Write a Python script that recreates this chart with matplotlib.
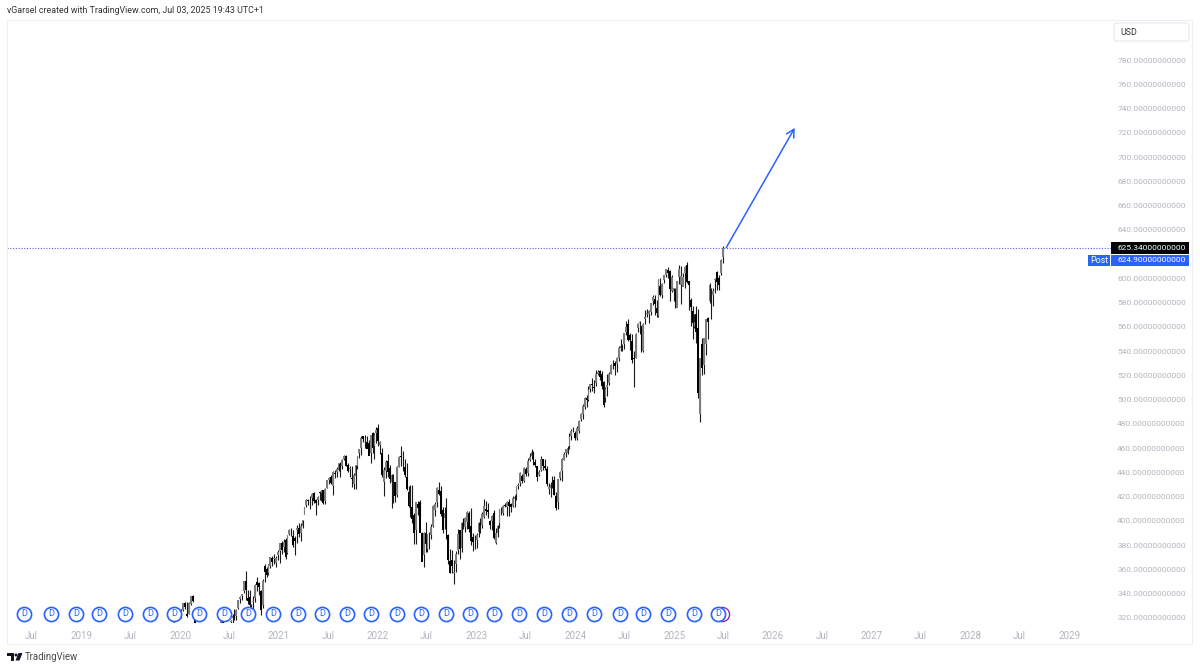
# SPY semanal estilo TradingView
import pandas as pd
import numpy as np
import matplotlib
matplotlib.use('Agg')
import matplotlib.pyplot as plt
from matplotlib.patches import Rectangle, FancyBboxPatch, Polygon, Circle

plt.rcParams['font.family'] = ['Roboto', 'DejaVu Sans']

# Velas semanales, primera semana 2019-12-09
primera_semana = '2019-12-09'

opens = [
    314.4, 318.0, 320.5,
    # 2020
    322.0, 320.5, 326.4, 332.4, 323.0, 323.4, 331.2, 337.8, 323.1, 298.2,
    275.3, 241.2, 228.2, 255.7, 257.8, 277.1, 279.1, 285.1, 280.7, 290.3,
    293.0, 301.9, 303.6, 320.2, 298.0, 307.0, 301.4, 316.4, 320.1, 321.4,
    321.6, 327.9, 335.1, 337.9, 342.1, 350.2, 336.7, 337.5, 322.0, 333.2,
    336.0, 349.6, 348.6, 342.0, 330.2, 363.0, 360.0, 357.3, 362.8, 369.0,
    368.6, 364.9, 371.7,
    # 2021
    375.3, 382.0, 378.3, 384.0, 373.7, 388.8, 389.6, 387.1, 385.6, 392.0,
    394.3, 390.0, 395.3, 405.8, 412.8, 417.2, 417.5, 419.0, 422.5, 417.0,
    417.1, 424.0, 423.0, 425.0, 416.0, 427.2, 433.8, 436.2, 428.9, 439.3,
    440.3, 442.1, 447.0, 445.0, 450.9, 453.3, 445.9, 443.0, 434.9, 430.0,
    437.2, 444.8, 455.5, 460.3, 469.7, 469.2, 465.0, 464.1, 456.1, 472.2,
    461.6, 472.1,
    # 2022
    476.3, 462.7, 455.5, 432.0, 441.2, 449.5, 443.7, 431.9, 432.0, 431.8,
    420.9, 444.3, 453.3, 447.9, 444.1, 436.0, 423.7, 412.1, 411.1, 405.1,
    392.8, 413.6, 415.2, 390.0, 371.9, 390.0, 376.6, 384.9, 388.4, 395.8,
    409.2, 415.2, 425.0, 424.5, 409.1, 402.7, 408.8, 388.2, 367.0, 368.0,
    357.2, 364.0, 375.9, 392.7, 377.7, 401.6, 394.6, 399.1, 406.1, 395.9,
    387.0, 382.8,
    # 2023
    384.4, 390.4, 398.5, 396.7, 402.8, 409.8, 408.7, 399.9, 399.9, 406.4,
    381.8, 390.1, 398.1, 408.9, 406.6, 412.9, 411.2, 415.5, 413.6, 412.2,
    417.7, 422.0, 428.3, 431.0, 437.0, 432.9, 442.9, 439.0, 450.5, 453.4,
    456.3, 448.7, 444.9, 437.6, 442.2, 450.7, 444.9, 443.1, 426.6, 426.9,
    431.8, 433.4, 420.6, 415.4, 435.5, 441.0, 450.5, 455.5, 455.8, 461.6,
    470.0, 475.4,
    # 2024
    472.2, 468.4, 474.0, 484.0, 487.9, 493.7, 501.1, 500.0, 508.3, 513.1,
    510.5, 514.0, 521.2, 523.8, 521.1, 514.4, 501.0, 510.1, 513.3, 521.1,
    529.6, 530.0, 529.0, 534.1, 542.1, 544.3, 545.6, 555.4, 562.0, 553.0,
    548.0, 534.1, 534.2, 559.2, 563.2, 560.5, 540.0, 566.0, 570.5, 570.4,
    572.0, 581.2, 583.3, 575.6, 569.1, 593.3, 586.2, 598.8, 602.9, 607.0,
    606.0, 589.8, 589.9,
    # 2025
    589.7, 575.5, 600.7, 594.8, 592.7, 604.0, 611.0, 597.8, 582.2, 573.0,
    559.8, 570.8, 558.9, 488.0, 546.0, 528.1, 546.0, 567.4, 581.5, 578.7,
    586.3, 598.7, 605.0, 600.0, 604.0, 617.4,
]
highs = [
    318.0, 321.0, 322.9,
    # 2020
    323.6, 327.5, 332.2, 333.1, 332.9, 333.0, 338.1, 339.1, 324.0, 313.8,
    288.5, 256.9, 264.0, 263.3, 281.2, 288.0, 286.8, 300.6, 293.0, 294.0,
    298.5, 306.8, 321.0, 323.4, 315.6, 314.5, 315.7, 318.0, 323.0, 327.2,
    327.0, 335.0, 338.3, 339.7, 350.7, 358.8, 342.6, 343.1, 331.2, 338.3,
    347.5, 354.0, 349.3, 342.9, 352.0, 364.4, 361.9, 364.2, 369.9, 371.0,
    372.5, 371.0, 375.5,
    # 2021
    381.5, 383.0, 385.0, 385.9, 388.5, 393.0, 394.2, 392.3, 387.7, 396.5,
    398.1, 398.0, 401.0, 411.7, 418.0, 418.3, 420.7, 422.8, 424.0, 418.0,
    420.7, 424.5, 425.5, 425.5, 427.0, 434.0, 436.0, 437.9, 441.0, 441.8,
    444.5, 448.0, 448.3, 451.0, 454.0, 454.1, 448.0, 445.4, 445.0, 439.0,
    446.3, 453.8, 459.6, 469.7, 470.0, 470.6, 470.0, 466.6, 471.0, 473.0,
    472.0, 477.0,
    # 2022
    479.98, 466.0, 460.0, 444.0, 450.3, 455.0, 446.0, 438.7, 438.2, 432.0,
    445.0, 453.5, 462.0, 457.8, 450.6, 448.0, 429.0, 429.7, 429.7, 406.4,
    408.6, 416.0, 417.4, 390.9, 391.0, 399.0, 389.5, 391.0, 397.0, 413.0,
    415.7, 428.0, 431.7, 428.5, 411.0, 411.5, 419.0, 388.7, 377.0, 376.0,
    368.0, 375.0, 393.0, 392.7, 399.4, 402.0, 402.9, 408.0, 407.7, 410.5,
    390.0, 388.0,
    # 2023
    390.0, 399.0, 402.0, 407.0, 418.3, 416.0, 415.0, 400.6, 404.9, 409.0,
    394.0, 396.5, 409.7, 411.0, 413.0, 415.0, 416.0, 417.6, 415.0, 420.7,
    421.0, 428.7, 431.0, 439.9, 438.4, 444.3, 444.0, 451.4, 456.0, 459.4,
    457.3, 451.0, 445.3, 442.0, 453.7, 451.0, 451.0, 445.0, 431.0, 432.0,
    437.3, 437.0, 424.0, 434.8, 441.0, 451.4, 456.4, 459.6, 461.9, 472.0,
    475.9, 477.6,
    # 2024
    473.7, 477.8, 483.0, 488.8, 496.0, 502.0, 503.5, 511.0, 513.0, 517.4,
    516.0, 524.0, 524.6, 524.4, 523.2, 515.0, 510.0, 521.4, 522.6, 529.5,
    533.0, 531.5, 534.7, 544.0, 550.0, 546.0, 555.0, 565.0, 566.0, 555.0,
    554.0, 540.0, 555.0, 563.0, 565.0, 552.0, 563.0, 574.0, 574.5, 574.0,
    580.0, 586.0, 586.0, 582.0, 599.0, 600.0, 596.0, 603.0, 608.0, 609.0,
    607.0, 602.5, 591.9,
    # 2025
    592.0, 598.0, 611.0, 610.0, 604.0, 610.0, 613.2, 598.0, 584.0, 577.0,
    570.9, 577.0, 575.0, 507.0, 551.0, 539.0, 551.0, 568.0, 596.0, 591.6,
    592.0, 600.0, 606.0, 603.0, 616.0, 626.9,
]
lows = [
    313.0, 317.7, 320.1,
    # 2020
    320.4, 319.9, 325.3, 327.0, 320.9, 322.8, 330.9, 333.0, 285.5, 294.0,
    248.5, 229.0, 218.3, 240.0, 255.0, 270.6, 266.0, 281.0, 279.0, 272.4,
    287.0, 298.0, 303.0, 296.7, 296.7, 298.0, 298.9, 310.3, 312.0, 318.0,
    318.5, 327.5, 332.0, 335.0, 340.5, 334.9, 331.4, 328.0, 319.8, 326.5,
    333.0, 342.4, 339.0, 322.6, 327.9, 349.5, 354.0, 354.9, 361.0, 362.6,
    364.0, 362.0, 368.0,
    # 2021
    364.8, 373.0, 374.0, 368.3, 373.0, 388.0, 387.1, 378.0, 372.0, 381.4,
    386.5, 383.0, 394.0, 405.8, 411.0, 413.0, 410.0, 413.0, 415.0, 405.0,
    413.0, 417.0, 416.0, 414.0, 414.0, 427.0, 430.0, 430.0, 421.0, 435.0,
    436.0, 441.0, 436.0, 443.0, 450.0, 445.0, 440.0, 436.0, 428.0, 426.0,
    426.4, 443.0, 452.0, 454.0, 465.0, 460.0, 463.0, 456.0, 448.0, 456.0,
    451.0, 464.0,
    # 2022
    462.0, 455.0, 436.0, 420.8, 435.0, 436.0, 431.0, 410.6, 415.0, 415.1,
    420.0, 444.0, 445.0, 441.0, 436.0, 425.0, 411.0, 403.0, 398.0, 380.5,
    380.5, 405.0, 401.0, 378.0, 362.2, 374.0, 374.0, 377.0, 385.0, 395.0,
    404.0, 411.0, 421.0, 404.0, 389.9, 393.0, 385.0, 364.0, 357.0, 357.0,
    348.1, 358.0, 373.0, 368.8, 374.0, 393.0, 391.0, 393.0, 391.0, 380.0,
    374.8, 377.0,
    # 2023
    377.8, 387.0, 390.0, 394.0, 402.0, 405.0, 402.0, 393.6, 392.0, 385.0,
    380.7, 387.0, 393.7, 405.0, 405.0, 411.0, 403.8, 403.7, 407.0, 411.0,
    411.0, 417.0, 426.0, 429.0, 431.0, 432.0, 437.0, 437.0, 449.0, 451.0,
    446.0, 444.0, 433.0, 437.0, 441.0, 442.0, 442.0, 429.0, 422.0, 420.0,
    427.0, 421.0, 409.2, 409.8, 434.0, 433.0, 450.0, 453.0, 455.0, 459.0,
    467.0, 473.0,
    # 2024
    466.4, 467.0, 472.0, 482.0, 484.0, 492.0, 493.9, 499.0, 506.0, 507.0,
    505.0, 511.0, 520.0, 516.0, 509.0, 493.9, 498.0, 503.0, 512.0, 521.0,
    525.0, 520.0, 522.6, 532.0, 540.0, 540.0, 542.0, 553.0, 548.0, 541.0,
    530.0, 510.3, 534.0, 556.0, 554.0, 539.4, 539.4, 562.0, 568.0, 563.0,
    570.0, 578.0, 570.0, 568.0, 568.0, 585.0, 584.0, 596.0, 601.0, 600.0,
    580.9, 589.0, 581.4,
    # 2025
    575.4, 576.0, 595.0, 579.0, 595.0, 592.0, 596.0, 574.0, 561.0, 549.7,
    559.0, 546.9, 501.0, 481.8, 520.0, 521.0, 537.0, 550.0, 580.0, 566.0,
    577.0, 588.0, 590.0, 590.0, 603.0, 613.0,
]
closes = [
    317.3, 320.7, 322.9,
    # 2020
    322.4, 325.7, 331.9, 328.8, 321.7, 332.2, 337.6, 333.5, 296.3, 297.5,
    269.3, 228.8, 253.4, 248.2, 278.2, 286.6, 283.0, 282.8, 292.4, 286.3,
    295.4, 304.3, 319.3, 300.6, 308.6, 300.1, 312.2, 317.6, 321.7, 320.9,
    326.5, 334.6, 336.8, 339.5, 350.6, 342.6, 334.1, 330.6, 328.7, 333.8,
    346.9, 347.3, 345.8, 326.5, 350.2, 358.1, 355.3, 363.7, 369.9, 366.3,
    369.2, 369.0, 373.9,
    # 2021
    381.3, 375.7, 382.9, 370.1, 387.7, 392.6, 390.0, 380.4, 383.6, 394.1,
    389.5, 396.0, 400.6, 411.5, 417.3, 416.7, 417.3, 422.1, 416.6, 414.9,
    420.0, 422.6, 424.3, 414.9, 426.6, 433.7, 435.5, 431.3, 439.9, 438.5,
    442.5, 447.3, 443.4, 450.3, 453.1, 445.4, 441.4, 443.9, 434.2, 437.9,
    445.9, 453.1, 459.3, 468.5, 467.3, 468.9, 459.0, 453.4, 470.7, 459.9,
    470.6, 475.0,
    # 2022
    466.1, 464.7, 438.0, 442.0, 448.7, 440.5, 434.2, 437.8, 432.2, 420.1,
    444.5, 452.7, 452.9, 447.6, 437.8, 426.0, 412.0, 411.3, 401.7, 389.6,
    415.3, 410.5, 389.8, 365.9, 390.1, 381.2, 388.7, 385.1, 395.1, 412.0,
    413.5, 427.1, 422.1, 405.3, 392.2, 406.6, 385.6, 368.0, 357.2, 362.8,
    357.7, 372.6, 389.0, 376.4, 398.5, 396.0, 402.3, 406.9, 393.3, 383.3,
    382.9, 382.4,
    # 2023
    388.1, 398.5, 395.9, 405.7, 412.4, 408.0, 407.3, 396.4, 404.2, 385.9,
    390.0, 395.8, 409.4, 409.2, 412.5, 412.2, 415.9, 412.6, 411.6, 418.6,
    420.0, 427.9, 429.9, 439.5, 433.2, 443.3, 438.6, 449.3, 452.2, 456.9,
    448.8, 445.6, 436.5, 440.0, 451.2, 445.5, 443.4, 430.4, 427.5, 429.5,
    431.5, 421.2, 410.7, 434.7, 440.6, 450.8, 455.3, 459.1, 460.2, 469.3,
    473.7, 475.3,
    # 2024
    467.9, 476.7, 482.4, 487.8, 494.4, 501.2, 499.5, 507.9, 512.9, 511.7,
    509.8, 521.2, 523.1, 518.4, 510.9, 495.2, 508.3, 512.3, 520.8, 528.7,
    529.4, 527.4, 534.0, 542.8, 544.5, 544.2, 554.6, 560.0, 549.0, 549.0,
    532.9, 533.3, 554.3, 562.1, 563.7, 540.4, 562.0, 568.3, 571.5, 573.0,
    579.6, 584.6, 579.0, 571.0, 598.2, 585.8, 595.5, 602.6, 607.8, 604.3,
    591.2, 601.3, 592.0,
    # 2025
    580.5, 597.6, 608.0, 601.8, 600.8, 609.7, 597.2, 594.2, 575.9, 562.8,
    564.0, 555.7, 505.3, 533.9, 526.4, 550.6, 566.8, 564.3, 594.2, 579.1,
    589.4, 599.1, 597.0, 594.3, 614.9, 625.3,
]

# Fechas de los dividendos (marcas D)
fechas_d = [
    '2018-06-03', '2018-09-11', '2018-12-12', '2019-03-07', '2019-06-12',
    '2019-09-12', '2019-12-10', '2020-03-11', '2020-06-12', '2020-09-08',
    '2020-12-10', '2021-03-12', '2021-06-09', '2021-09-10', '2021-12-07',
    '2022-03-13', '2022-06-10', '2022-09-11', '2022-12-08', '2023-03-07',
    '2023-06-08', '2023-09-08', '2023-12-10', '2024-03-11', '2024-06-15',
    '2024-09-08', '2024-12-10', '2025-03-16', '2025-06-13',
]
fecha_ganancias = '2025-06-27'

# 620 queda tapado por las etiquetas de precio
precios_eje = [320, 340, 360, 380, 400, 420, 440, 460, 480, 500, 520, 540, 560, 580, 600,
               640, 660, 680, 700, 720, 740, 760, 780]
fechas_eje = ['2018-07-01', '2019-01-01', '2019-07-01', '2020-01-01', '2020-07-01',
              '2021-01-01', '2021-07-01', '2022-01-01', '2022-07-01', '2023-01-01',
              '2023-07-01', '2024-01-01', '2024-07-01', '2025-01-01', '2025-07-01',
              '2026-01-01', '2026-07-01', '2027-01-01', '2027-07-01', '2028-01-01',
              '2028-07-01', '2029-01-01']
etiquetas_eje = ['Jul', '2019', 'Jul', '2020', 'Jul', '2021', 'Jul', '2022', 'Jul', '2023',
                 'Jul', '2024', 'Jul', '2025', 'Jul', '2026', 'Jul', '2027', 'Jul', '2028',
                 'Jul', '2029']

precio_actual = 625.34
precio_post = 624.90
flecha_inicio = ('2025-07-13', 625.34)
flecha_fin = ('2026-03-23', 724.0)

AZUL = '#2962ff'
GRIS = '#b2b5be'

fig = plt.figure(figsize=(12, 6.7), dpi=100, facecolor='white')
# panel principal: x 7-1113, y 20-623 en pixeles
ax = fig.add_axes([7 / 1200, 1 - 623 / 670, 1106 / 1200, 603 / 670])
for lado in ax.spines.values():
    lado.set_visible(False)

semanas = pd.date_range(primera_semana, periods=len(closes), freq='W-MON')
o = np.array(opens)
h = np.array(highs)
l = np.array(lows)
c = np.array(closes)
sube = c >= o

# mechas y cuerpos
ax.vlines(semanas, l, h, color='#1a1a1a', lw=0.8, zorder=2)
ax.bar(semanas[sube], (c - o)[sube], bottom=o[sube], width=6.6, color='#7d7d7d', zorder=3)
ax.bar(semanas[~sube], (o - c)[~sube], bottom=c[~sube], width=6.6, color='black', zorder=3)

ax.axhline(precio_actual, color='#6a55d8', lw=0.8, ls=(0, (1, 1.5)), zorder=1)

ax.annotate('', xy=(pd.Timestamp(flecha_fin[0]), flecha_fin[1]),
            xytext=(pd.Timestamp(flecha_inicio[0]), flecha_inicio[1]),
            arrowprops=dict(arrowstyle='->,head_length=0.55,head_width=0.3', color=AZUL, lw=1.1,
                            shrinkA=0, shrinkB=0), zorder=4)

ax.set_xlim(pd.Timestamp('2018-04-01'), pd.Timestamp('2029-06-12'))
ax.set_ylim(315.7, 813)

ax.yaxis.tick_right()
ax.set_yticks(precios_eje)
ax.set_yticklabels([f'{p:.11f}' for p in precios_eje], color=GRIS, fontsize=6.05)
ax.set_xticks(pd.to_datetime(fechas_eje))
ax.set_xticklabels(etiquetas_eje, color=GRIS, fontsize=7)
ax.tick_params(axis='y', length=0, pad=3)
ax.tick_params(axis='x', length=0, pad=5.5)

# marcas de dividendos
trans = ax.get_xaxis_transform()
y_marca = (623 - 614) / 603
ax.plot([pd.Timestamp(fecha_ganancias)], [y_marca], 'o', ms=10.2, mfc='white', mec='#9c27b0',
        mew=1.0, transform=trans, clip_on=False, zorder=5)
for f in fechas_d:
    ax.plot([pd.Timestamp(f)], [y_marca], 'o', ms=10.2, mfc='white', mec=AZUL, mew=1.2,
            transform=trans, clip_on=False, zorder=6)
    ax.text(pd.Timestamp(f), y_marca, 'D', color=AZUL, fontsize=6.6, ha='center', va='center',
            transform=trans, zorder=7)

# capa en pixeles para marco, etiquetas y logo
capa = fig.add_axes([0, 0, 1, 1], zorder=10)
capa.set_xlim(0, 1200)
capa.set_ylim(670, 0)
capa.axis('off')
capa.patch.set_alpha(0)

capa.add_patch(Rectangle((7, 20), 1185, 624, fc='none', ec='#eeeff2', lw=0.8))
capa.add_patch(FancyBboxPatch((1114, 23), 75, 18, boxstyle='round,pad=0,rounding_size=2.5',
                              fc='white', ec='#e6e8ee', lw=0.8))
capa.text(1120, 32.5, 'USD', color='#333333', fontsize=6.4, va='center')

capa.add_patch(Rectangle((1111, 242), 78, 12, fc='black', ec='none'))
capa.text(1117, 248, f'{precio_actual:.11f}', color='white', fontsize=6.05, va='center')
capa.add_patch(Rectangle((1111, 255), 78, 11, fc=AZUL, ec='none'))
capa.text(1117, 260.5, f'{precio_post:.11f}', color='white', fontsize=6.05, va='center')
capa.add_patch(Rectangle((1088, 255), 22, 11, fc=AZUL, ec='none'))
capa.text(1099, 260.5, 'Post', color='white', fontsize=6.4, va='center', ha='center')

capa.text(7, 10.5, 'vGarsel created with TradingView.com, Jul 03, 2025 19:43 UTC+1',
          color='#333333', fontsize=6.4, va='center')

# logo
capa.add_patch(Polygon([(7, 653), (14, 653), (14, 660.5), (10.5, 660.5), (10.5, 656.3), (7, 656.3)],
                       fc='#131722', ec='none'))
capa.add_patch(Circle((16, 655), 1.5, fc='#131722', ec='none'))
capa.add_patch(Polygon([(18.5, 653), (22.5, 653), (19.5, 660.5), (15.5, 660.5)], fc='#131722', ec='none'))
capa.text(25, 657, 'TradingView', color='#4a4a4a', fontsize=6.9, va='center')

fig.savefig('out.png', dpi=100)
